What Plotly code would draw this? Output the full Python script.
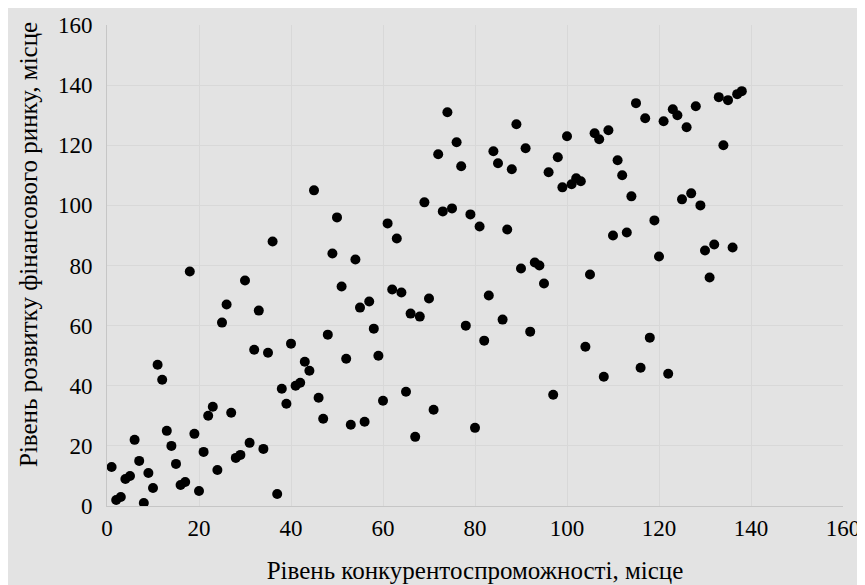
import plotly.graph_objects as go

# Rank on competitiveness (x) and rank on financial market development (y)
competitiveness_rank = list(range(1, 139))
financial_market_rank = [
    13, 2, 3, 9, 10, 22, 15, 1, 11, 6,
    47, 42, 25, 20, 14, 7, 8, 78, 24, 5,
    18, 30, 33, 12, 61, 67, 31, 16, 17, 75,
    21, 52, 65, 19, 51, 88, 4, 39, 34, 54,
    40, 41, 48, 45, 105, 36, 29, 57, 84, 96,
    73, 49, 27, 82, 66, 28, 68, 59, 50, 35,
    94, 72, 89, 71, 38, 64, 23, 63, 101, 69,
    32, 117, 98, 131, 99, 121, 113, 60, 97, 26,
    93, 55, 70, 118, 114, 62, 92, 112, 127, 79,
    119, 58, 81, 80, 74, 111, 37, 116, 106, 123,
    107, 109, 108, 53, 77, 124, 122, 43, 125, 90,
    115, 110, 91, 103, 134, 46, 129, 56, 95, 83,
    128, 44, 132, 130, 102, 126, 104, 133, 100, 85,
    76, 87, 136, 120, 135, 86, 137, 138,
]

x_title = "Рівень конкурентоспроможності, місце"
y_title = "Рівень розвитку фінансового ринку, місце"
tick_vals = [0, 20, 40, 60, 80, 100, 120, 140, 160]

BG = "#e3e3e3"
GRID = "#d8d8d8"
AXIS = "#c6c6c6"
FONT = "'Liberation Serif', 'Times New Roman', Times, serif"
FS_TICK = 23
FS_TITLE = 25

fig = go.Figure(
    go.Scatter(
        x=competitiveness_rank,
        y=financial_market_rank,
        mode="markers",
        marker=dict(color="#000000", size=10, line=dict(width=0)),
        hoverinfo="x+y",
    )
)

# page has an 8px body margin; figure coordinates are page - 8
W, H = 857, 577
L, R, T, B = 99, 22, 17, 79
pw, ph = W - L - R, H - T - B

fig.update_layout(
    width=W,
    height=H,
    margin=dict(l=L, r=R, t=T, b=B, pad=0),
    paper_bgcolor=BG,
    plot_bgcolor=BG,
    showlegend=False,
    font=dict(family=FONT, size=FS_TICK, color="#000000"),
    shapes=[
        dict(type="rect", xref="paper", yref="paper", layer="below",
             x0=-L / pw, x1=(W - L) / pw, y0=(H - T - 4) / ph, y1=(H - T) / ph,
             fillcolor="#ffffff", line=dict(width=0)),
    ],
    annotations=[
        dict(text=y_title, xref="paper", yref="paper",
             x=(20 - L) / pw, y=(ph - (237 - T)) / ph,
             xanchor="center", yanchor="middle", textangle=-90,
             showarrow=False, font=dict(family=FONT, size=FS_TITLE, color="#000000")),
    ],
)

fig.update_xaxes(
    range=[0, 160],
    tickvals=tick_vals,
    automargin=False,
    showgrid=True,
    gridcolor=GRID,
    gridwidth=1,
    zeroline=False,
    showline=True,
    linecolor=AXIS,
    linewidth=1,
    ticks="",
    ticklabelstandoff=1,
    tickfont=dict(family=FONT, size=FS_TICK),
    title=dict(text=x_title, font=dict(family=FONT, size=FS_TITLE), standoff=21),
)
fig.update_yaxes(
    range=[0, 160],
    tickvals=tick_vals,
    automargin=False,
    showgrid=True,
    gridcolor=GRID,
    gridwidth=1,
    zeroline=False,
    showline=True,
    linecolor=AXIS,
    linewidth=1,
    ticks="",
    ticklabelstandoff=9,
    tickfont=dict(family=FONT, size=FS_TICK),
)

fig.write_html("out.html")
